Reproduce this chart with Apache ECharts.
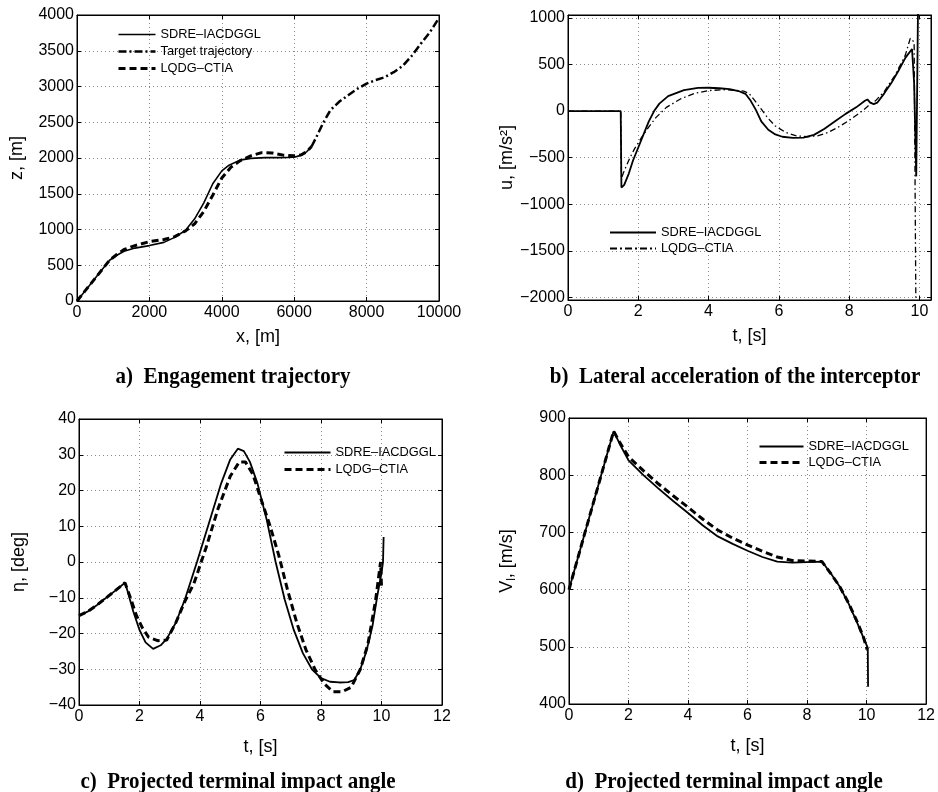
<!DOCTYPE html>
<html>
<head>
<meta charset="utf-8">
<script src="https://cdn.jsdelivr.net/npm/echarts@6/dist/echarts.min.js"></script>
<style>html,body{margin:0;padding:0;background:#fff}#c{width:938px;height:792px}</style>
</head>
<body>
<div id="c"></div>
<script>
// ---------- Panel a: engagement trajectory ----------
const aSdreX = [0, 300, 600, 900, 1100, 1300, 1600, 2000, 2400, 2700, 3000, 3250, 3500, 3750, 4000, 4200, 4500, 4800, 5200, 5600, 6000, 6200, 6350, 6480];
const aSdreZ = [0, 190, 380, 570, 640, 695, 740, 775, 820, 890, 990, 1150, 1370, 1640, 1820, 1900, 1970, 1995, 2005, 2005, 2010, 2040, 2090, 2160];
const aLqdgX = [0, 300, 600, 900, 1100, 1300, 1600, 2000, 2400, 2700, 3000, 3250, 3500, 3750, 4000, 4250, 4500, 4800, 5100, 5400, 5700, 6000, 6200, 6350, 6480];
const aLqdgZ = [0, 190, 380, 570, 650, 720, 775, 830, 860, 900, 980, 1080, 1250, 1480, 1720, 1870, 1960, 2030, 2075, 2070, 2040, 2030, 2045, 2090, 2160];
const aTgtX = [6480, 6600, 6800, 7000, 7250, 7500, 7750, 8000, 8250, 8500, 8750, 9000, 9250, 9500, 9750, 10000];
const aTgtZ = [2160, 2280, 2490, 2670, 2790, 2880, 2970, 3040, 3090, 3130, 3200, 3290, 3430, 3600, 3760, 3960];

// ---------- Panel b: lateral acceleration ----------
const bSdreT = [0, 1.5, 1.52, 1.6, 1.73, 1.85, 2.0, 2.15, 2.3, 2.45, 2.6, 2.85, 3.3, 3.7, 4.0, 4.3, 4.6, 4.85, 5.05, 5.2, 5.35, 5.5, 5.7, 5.9, 6.1, 6.4, 6.7, 7.0, 7.3, 7.6, 7.9, 8.2, 8.45, 8.52, 8.6, 8.7, 8.8, 9.0, 9.2, 9.4, 9.6, 9.79, 9.85, 9.91, 9.96];
const bSdreU = [0, 0, -820, -790, -670, -530, -390, -250, -110, 0, 80, 160, 225, 248, 250, 245, 235, 215, 185, 110, 10, -110, -200, -250, -275, -288, -285, -255, -190, -110, -30, 40, 110, 125, 90, 75, 90, 190, 300, 430, 570, 665, 300, -700, 1100];
const bLqdgT = [0, 1.5, 1.52, 1.6, 1.75, 1.9, 2.1, 2.3, 2.5, 2.8, 3.2, 3.6, 4.0, 4.5, 5.0, 5.15, 5.3, 5.5, 5.7, 5.9, 6.2, 6.5, 6.8, 7.1, 7.4, 7.7, 8.0, 8.3, 8.5, 8.6, 8.75, 9.0, 9.3, 9.6, 9.74, 9.85, 9.9];
const bLqdgU = [0, 0, -720, -640, -510, -400, -280, -170, -70, 40, 130, 190, 220, 230, 215, 190, 120, 20, -80, -160, -230, -265, -275, -265, -230, -170, -100, -20, 40, 80, 110, 210, 380, 600, 780, 740, -2100];

// ---------- Panel c: projected terminal impact angle ----------
const cSdreT = [0, 0.3, 0.6, 0.9, 1.2, 1.52, 1.6, 1.8, 2.0, 2.2, 2.45, 2.7, 2.9, 3.2, 3.5, 3.9, 4.3, 4.7, 5.0, 5.25, 5.45, 5.65, 5.9, 6.2, 6.5, 6.8, 7.1, 7.4, 7.7, 8.0, 8.3, 8.6, 8.9, 9.1, 9.3, 9.5, 9.7, 9.85, 10.0, 10.05, 10.07];
const cSdreE = [-15, -13.8, -12, -10, -8, -5.8, -8, -14, -19, -22.5, -24.3, -23.3, -21.5, -17, -10.5, 0, 11, 22, 28.7, 31.7, 31, 28, 22, 12, 0, -10.5, -19, -25.5, -30, -32.5, -33.5, -33.7, -33.6, -33, -30, -25, -18, -10, -3, 0, 7];
const cLqdgT = [0, 0.3, 0.6, 0.9, 1.2, 1.52, 1.7, 1.9, 2.1, 2.3, 2.6, 2.9, 3.2, 3.5, 3.8, 4.2, 4.6, 5.0, 5.3, 5.5, 5.75, 6.0, 6.3, 6.6, 6.9, 7.2, 7.5, 7.8, 8.1, 8.4, 8.7, 9.0, 9.3, 9.55, 9.8, 9.97, 10.0];
const cLqdgE = [-15, -13.8, -12, -10, -8, -5.8, -10, -15, -18.5, -21, -22, -21.8, -17, -11, -6, 4, 15, 24, 28, 28, 24.5, 18, 10.5, 2, -8, -17, -24.5, -30, -34, -36.3, -36.3, -35, -30, -23, -11, 0, -7];

// ---------- Panel d: V_l ----------
const dSdreT = [0, 0.5, 1.0, 1.5, 1.7, 2.0, 2.5, 3.0, 3.5, 4.0, 4.5, 5.0, 5.5, 6.0, 6.5, 7.0, 7.5, 8.0, 8.5, 8.8, 9.1, 9.4, 9.7, 9.9, 10.04, 10.05];
const dSdreV = [600, 693, 785, 877, 855, 826, 800, 777, 755, 734, 712, 693, 680, 668, 657, 649, 647, 648, 649, 628, 605, 575, 540, 515, 498, 430];
const dLqdgT = [0, 0.5, 1.0, 1.5, 1.7, 2.0, 2.5, 3.0, 3.5, 4.0, 4.5, 5.0, 5.5, 6.0, 6.5, 7.0, 7.5, 8.0, 8.5, 8.8, 9.1, 9.4, 9.7, 9.9, 10.02];
const dLqdgV = [600, 693, 785, 877, 858, 832, 808, 785, 764, 744, 723, 704, 690, 678, 667, 657, 651, 650, 649, 628, 605, 576, 542, 516, 495];

// tick labels
const aXTicks = [0, 2000, 4000, 6000, 8000, 10000];
const aYTicks = [0, 500, 1000, 1500, 2000, 2500, 3000, 3500, 4000];
const bXTicks = [0, 2, 4, 6, 8, 10];
const bYTicks = [-2000, -1500, -1000, -500, 0, 500, 1000];
const cXTicks = [0, 2, 4, 6, 8, 10, 12];
const cYTicks = [-40, -30, -20, -10, 0, 10, 20, 30, 40];
const dXTicks = [0, 2, 4, 6, 8, 10, 12];
const dYTicks = [400, 500, 600, 700, 800, 900];

const NAME_S = 'SDRE–IACDGGL';
const NAME_L = 'LQDG–CTIA';
const NAME_T = 'Target trajectory';

const zip = (xs, ys) => xs.map((x, i) => [x, ys[i]]);
const SANS = 'Liberation Sans';
const fmt = v => String(v).replace('-', '\u2212');

const grids = [
  {left: 77, top: 15, width: 362, height: 286},
  {left: 568, top: 15, width: 363, height: 285},
  {left: 79, top: 419, width: 363, height: 286},
  {left: 569, top: 418, width: 362, height: 286}
];
const ranges = [
  {x: [0, 10000], y: [0, 4000], xt: aXTicks, yt: aYTicks, xn: 'x, [m]', yn: 'z, [m]', ng: 27},
  {x: [0, 10.33], y: [-2025, 1030], xt: bXTicks, yt: bYTicks, xn: 't, [s]', yn: 'u, [m/s²]', ng: 27},
  {x: [0, 12], y: [-40, 40], xt: cXTicks, yt: cYTicks, xn: 't, [s]', yn: 'η, [deg]', ng: 33},
  {x: [0, 12], y: [400, 900], xt: dXTicks, yt: dYTicks, xn: 't, [s]', yn: '{v|V}{s|l}{v|, [m/s]}', ng: 33}
];

const splitLine = {show: true, lineStyle: {color: '#888', type: [1, 3], width: 1}};
const xAxes = [], yAxes = [];
ranges.forEach((r, i) => {
  xAxes.push({
    type: 'value', gridIndex: i, min: r.x[0], max: r.x[1], position: 'bottom',
    name: r.xn, nameLocation: 'middle', nameGap: r.ng,
    nameTextStyle: {fontFamily: SANS, fontSize: 18, color: '#000'},
    axisLine: {show: true, onZero: false, lineStyle: {color: '#000', width: 1}},
    axisTick: {show: true, inside: true, length: 4, customValues: r.xt, lineStyle: {color: '#000'}},
    axisLabel: {customValues: r.xt, formatter: fmt, fontFamily: SANS, fontSize: 16, color: '#000', margin: 4},
    splitLine: splitLine
  });
  xAxes.push({
    type: 'value', gridIndex: i, min: r.x[0], max: r.x[1], position: 'top',
    axisLine: {show: true, onZero: false, lineStyle: {color: '#000', width: 1}},
    axisTick: {show: true, inside: true, length: 4, customValues: r.xt, lineStyle: {color: '#000'}},
    axisLabel: {show: false}, splitLine: {show: false}
  });
  yAxes.push({
    type: 'value', gridIndex: i, min: r.y[0], max: r.y[1], position: 'left',
    name: r.yn, nameLocation: 'middle', nameGap: 51, nameRotate: 90,
    nameTextStyle: {fontFamily: SANS, fontSize: 18, color: '#000',
      rich: {v: {fontFamily: SANS, fontSize: 18, color: '#000'}, s: {fontFamily: SANS, fontSize: 12, color: '#000', padding: [9, 0, 0, 0]}}},
    axisLine: {show: true, onZero: false, lineStyle: {color: '#000', width: 1}},
    axisTick: {show: true, inside: true, length: 4, customValues: r.yt, lineStyle: {color: '#000'}},
    axisLabel: {customValues: r.yt, formatter: fmt, fontFamily: SANS, fontSize: 16, color: '#000', margin: 3},
    splitLine: splitLine
  });
  yAxes.push({
    type: 'value', gridIndex: i, min: r.y[0], max: r.y[1], position: 'right',
    axisLine: {show: true, onZero: false, lineStyle: {color: '#000', width: 1}},
    axisTick: {show: true, inside: true, length: 4, customValues: r.yt, lineStyle: {color: '#000'}},
    axisLabel: {show: false}, splitLine: {show: false}
  });
});

const DASH = [7, 4];
const DASHDOT = [8, 3, 2, 3];
const DASHDOT_THIN = [6, 3, 1.5, 3];
function line(name, gi, data, width, type, z) {
  return {
    type: 'line', name: name, xAxisIndex: gi * 2, yAxisIndex: gi * 2, data: data,
    showSymbol: false, symbol: 'none', animation: false, clip: true, z: z || 2,
    color: '#000', itemStyle: {color: '#000'},
    lineStyle: {color: '#000', width: width, type: type}
  };
}

const series = [
  line(NAME_T, 0, zip(aTgtX, aTgtZ), 2.5, DASHDOT),
  line(NAME_L, 0, zip(aLqdgX, aLqdgZ), 3, DASH),
  line(NAME_S, 0, zip(aSdreX, aSdreZ), 1.6, 'solid', 3),
  line(NAME_L, 1, zip(bLqdgT, bLqdgU), 1.3, DASHDOT_THIN),
  line(NAME_S, 1, zip(bSdreT, bSdreU), 1.8, 'solid', 3),
  line(NAME_L, 2, zip(cLqdgT, cLqdgE), 3, DASH),
  line(NAME_S, 2, zip(cSdreT, cSdreE), 1.8, 'solid', 3),
  line(NAME_L, 3, zip(dLqdgT, dLqdgV), 3, DASH),
  line(NAME_S, 3, zip(dSdreT, dSdreV), 1.8, 'solid', 3)
];

const legTxt = {fontFamily: SANS, fontSize: 12.8, color: '#000'};
const hideSym = {color: 'rgba(0,0,0,0)', borderWidth: 0, opacity: 0};
function item(name, type, width) {
  return {name: name, itemStyle: hideSym, lineStyle: {color: '#000', type: type, width: width, opacity: 1}};
}
function legend(left, top, items, gap, w) {
  return {
    orient: 'vertical', left: left, top: top, padding: 0, itemGap: gap, itemWidth: w, itemHeight: 14,
    textStyle: legTxt, selectedMode: false, itemStyle: hideSym, data: items
  };
}
const legends = [
  legend(117, 28, [item(NAME_S, 'solid', 1.6), item(NAME_T, DASHDOT, 2.5), item(NAME_L, DASH, 3)], 4, 37),
  legend(609, 226, [item(NAME_S, 'solid', 2), item(NAME_L, [7, 3, 2, 3], 2)], 3, 46),
  legend(283, 446, [item(NAME_S, 'solid', 2), item(NAME_L, DASH, 3)], 4, 46),
  legend(758, 440, [item(NAME_S, 'solid', 2), item(NAME_L, DASH, 3)], 3, 44)
];

const capFont = 'bold 21px "Liberation Serif"';
function cap(text, x, y) {
  return {type: 'text', x: x, y: y, scaleY: 1.08, style: {text: text, font: capFont, fill: '#000', textAlign: 'center', textVerticalAlign: 'middle'}};
}

const chart = echarts.init(document.getElementById('c'), null, {renderer: 'canvas'});
chart.setOption({
  animation: false,
  backgroundColor: '#fff',
  grid: grids.map(g => Object.assign({show: true, borderColor: '#000', borderWidth: 1, backgroundColor: 'transparent', containLabel: false}, g)),
  xAxis: xAxes,
  yAxis: yAxes,
  legend: legends,
  series: series,
  graphic: [
    cap('a)  Engagement trajectory', 233, 377),
    cap('b)  Lateral acceleration of the interceptor', 735, 377),
    cap('c)  Projected terminal impact angle', 238, 782),
    cap('d)  Projected terminal impact angle', 724, 782)
  ]
});
</script>
</body>
</html>
